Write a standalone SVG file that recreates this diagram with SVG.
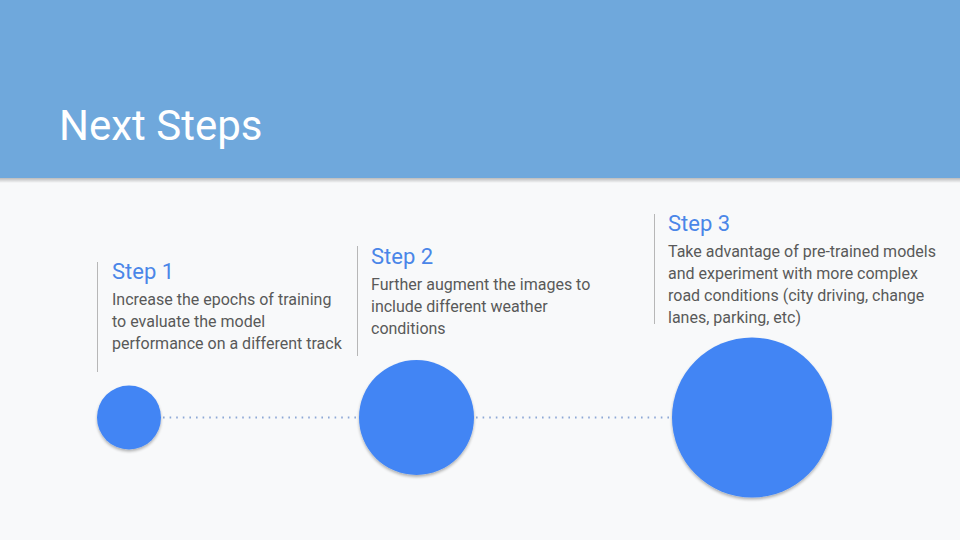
<svg xmlns="http://www.w3.org/2000/svg" width="960" height="540" viewBox="0 0 960 540">
<defs>
<filter id="sh" x="-20%" y="-20%" width="140%" height="150%">
<feGaussianBlur in="SourceAlpha" stdDeviation="1.5"/>
<feOffset dy="2" result="b"/>
<feComponentTransfer><feFuncA type="linear" slope="0.3"/></feComponentTransfer>
<feMerge><feMergeNode/><feMergeNode in="SourceGraphic"/></feMerge>
</filter>
<linearGradient id="hs" x1="0" y1="0" x2="0" y2="1">
<stop offset="0" stop-color="#000" stop-opacity="0.25"/>
<stop offset="1" stop-color="#000" stop-opacity="0"/>
</linearGradient>
</defs>
<style>
.title{font-family:Roboto,"Liberation Sans",sans-serif;font-size:42px;fill:#ffffff}
.head{font-family:Roboto,"Liberation Sans",sans-serif;font-size:22px;fill:#4a86e8}
.body{font-family:Roboto,"Liberation Sans",sans-serif;font-size:16px;fill:#595959}
.vl{stroke:#b7b7b7;stroke-width:1}
.dot{stroke:#8ea9d6;stroke-width:2;stroke-dasharray:1.6 5;fill:none}
.c{fill:#4285f4;filter:url(#sh)}
</style>
<rect x="0" y="0" width="960" height="540" fill="#f8f9fa"/>
<rect x="0" y="178" width="960" height="5" fill="url(#hs)"/>
<rect x="0" y="0" width="960" height="178" fill="#6fa8dc"/>
<text class="title" x="59" y="140">Next Steps</text>
<g id="connectors">
<line class="dot" x1="163" y1="417.5" x2="358" y2="417.5"/>
<line class="dot" x1="476" y1="417.5" x2="671" y2="417.5"/>
</g>
<g id="step1">
<line class="vl" x1="97.5" y1="262" x2="97.5" y2="372"/>
<text class="head" x="112" y="279">Step 1</text>
<text class="body" x="112" y="305">Increase the epochs of training</text>
<text class="body" x="112" y="327">to evaluate the model</text>
<text class="body" x="112" y="349">performance on a different track</text>
<circle class="c" cx="129" cy="417.5" r="32"/>
</g>
<g id="step2">
<line class="vl" x1="357.5" y1="246" x2="357.5" y2="356"/>
<text class="head" x="371" y="264">Step 2</text>
<text class="body" x="371" y="290">Further augment the images to</text>
<text class="body" x="371" y="312">include different weather</text>
<text class="body" x="371" y="334">conditions</text>
<circle class="c" cx="416.5" cy="417.5" r="57.5"/>
</g>
<g id="step3">
<line class="vl" x1="654.5" y1="214" x2="654.5" y2="324"/>
<text class="head" x="668" y="231">Step 3</text>
<text class="body" x="668" y="257">Take advantage of pre-trained models</text>
<text class="body" x="668" y="279">and experiment with more complex</text>
<text class="body" x="668" y="301">road conditions (city driving, change</text>
<text class="body" x="668" y="323">lanes, parking, etc)</text>
<circle class="c" cx="752" cy="417.5" r="80"/>
</g>
</svg>
